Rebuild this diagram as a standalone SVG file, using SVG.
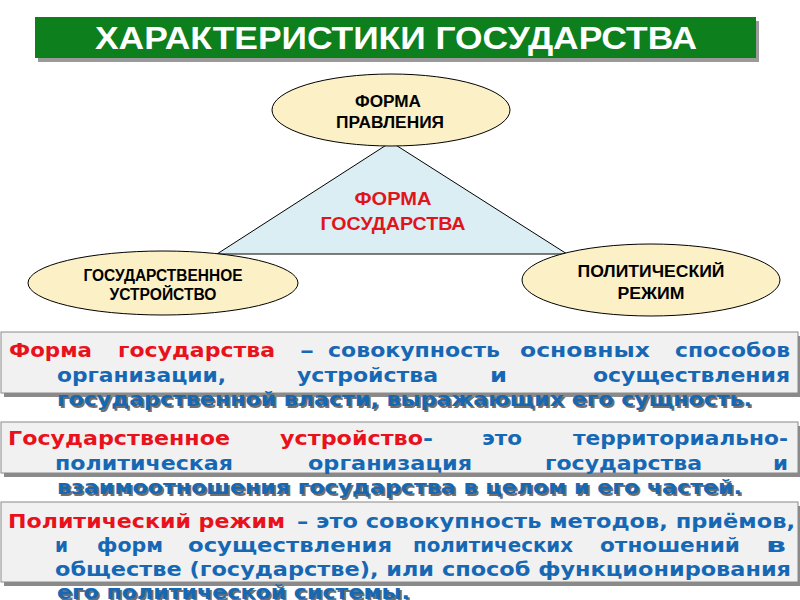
<svg xmlns="http://www.w3.org/2000/svg" width="800" height="600" viewBox="0 0 800 600">
<style>
.ttl{font-family:"Liberation Sans",Arial,sans-serif;font-weight:bold;font-size:31px;fill:#ffffff}
.lbl{font-family:"Liberation Sans",Arial,sans-serif;font-weight:bold;font-size:16px;fill:#000000;text-anchor:middle}
.mid{font-family:"Liberation Sans",Arial,sans-serif;font-weight:bold;font-size:18px;fill:#e0151b;text-anchor:middle}
.ell{fill:#fcf1c6;stroke:#000;stroke-width:1}
.box{fill:#f1f1f1;stroke:#8a8a8a;stroke-width:1}
.boxsh{fill:#8a8a8a}
.t{font-family:"DejaVu Sans",Verdana,sans-serif;font-weight:bold;font-size:20px}
.r{fill:#e8121c}
.b{fill:#1768b4}
.s{fill:#6f6f6f}
</style>

<g id="title">
  <rect x="38" y="21" width="721" height="41" fill="#9a9a9a"/>
  <rect x="35" y="17" width="721" height="41" fill="#0d7f1c"/>
  <text class="ttl" x="95" y="49" textLength="602" lengthAdjust="spacingAndGlyphs">ХАРАКТЕРИСТИКИ ГОСУДАРСТВА</text>
</g>

<g id="triangle-forma-gosudarstva">
  <polygon points="391,142 217,254 567,254" fill="#dbeef4" stroke="#000" stroke-width="1"/>
  <text class="mid" x="393" y="205" textLength="77" lengthAdjust="spacingAndGlyphs">ФОРМА</text>
  <text class="mid" x="393" y="230" textLength="145" lengthAdjust="spacingAndGlyphs">ГОСУДАРСТВА</text>
</g>

<g id="node-forma-pravleniya">
  <ellipse class="ell" cx="391" cy="110" rx="119" ry="36"/>
  <text class="lbl" x="388" y="107" textLength="66" lengthAdjust="spacingAndGlyphs">ФОРМА</text>
  <text class="lbl" x="390" y="128" textLength="108" lengthAdjust="spacingAndGlyphs">ПРАВЛЕНИЯ</text>
</g>

<g id="node-gos-ustroystvo">
  <ellipse class="ell" cx="163" cy="283" rx="135" ry="32"/>
  <text class="lbl" x="163" y="281" textLength="159" lengthAdjust="spacingAndGlyphs">ГОСУДАРСТВЕННОЕ</text>
  <text class="lbl" x="163" y="300" textLength="107" lengthAdjust="spacingAndGlyphs">УСТРОЙСТВО</text>
</g>

<g id="node-polit-rezhim">
  <ellipse class="ell" cx="651" cy="280" rx="129" ry="36"/>
  <text class="lbl" x="651" y="277" textLength="147" lengthAdjust="spacingAndGlyphs">ПОЛИТИЧЕСКИЙ</text>
  <text class="lbl" x="651" y="299" textLength="67" lengthAdjust="spacingAndGlyphs">РЕЖИМ</text>
</g>

<g id="connectors"></g>

<g id="def-forma">
  <rect class="boxsh" x="4" y="336" width="797" height="61"/>
  <rect class="box" x="1" y="332" width="797" height="61"/>
  <text class="t r" x="9" y="357" textLength="83" lengthAdjust="spacingAndGlyphs">Форма</text>
  <text class="t r" x="118" y="357" textLength="157" lengthAdjust="spacingAndGlyphs">государства</text>
  <text class="t b" x="300" y="357" textLength="14" lengthAdjust="spacingAndGlyphs">–</text>
  <text class="t b" x="328" y="357" textLength="172" lengthAdjust="spacingAndGlyphs">совокупность</text>
  <text class="t b" x="520" y="357" textLength="130" lengthAdjust="spacingAndGlyphs">основных</text>
  <text class="t b" x="675" y="357" textLength="115" lengthAdjust="spacingAndGlyphs">способов</text>
  <text class="t b" x="57" y="382" textLength="169" lengthAdjust="spacingAndGlyphs">организации,</text>
  <text class="t b" x="297" y="382" textLength="141" lengthAdjust="spacingAndGlyphs">устройства</text>
  <text class="t b" x="490" y="382" textLength="17" lengthAdjust="spacingAndGlyphs">и</text>
  <text class="t b" x="593" y="382" textLength="197" lengthAdjust="spacingAndGlyphs">осуществления</text>
  <text class="t s" x="59" y="408" textLength="695" lengthAdjust="spacingAndGlyphs">государственной власти, выражающих его сущность.</text>
  <text class="t b" x="57" y="406" textLength="695" lengthAdjust="spacingAndGlyphs">государственной власти, выражающих его сущность.</text>
</g>

<g id="def-ustroystvo">
  <rect class="boxsh" x="4" y="426" width="797" height="51"/>
  <rect class="box" x="1" y="422" width="797" height="51"/>
  <text class="t r" x="8" y="445" textLength="222" lengthAdjust="spacingAndGlyphs">Государственное</text>
  <text class="t r" x="280" y="445" textLength="143" lengthAdjust="spacingAndGlyphs">устройство</text>
  <text class="t b" x="423" y="445" textLength="10" lengthAdjust="spacingAndGlyphs">-</text>
  <text class="t b" x="482" y="445" textLength="40" lengthAdjust="spacingAndGlyphs">это</text>
  <text class="t b" x="573" y="445" textLength="215" lengthAdjust="spacingAndGlyphs">территориально-</text>
  <text class="t b" x="55" y="470" textLength="178" lengthAdjust="spacingAndGlyphs">политическая</text>
  <text class="t b" x="308" y="470" textLength="164" lengthAdjust="spacingAndGlyphs">организация</text>
  <text class="t b" x="545" y="470" textLength="157" lengthAdjust="spacingAndGlyphs">государства</text>
  <text class="t b" x="773" y="470" textLength="15" lengthAdjust="spacingAndGlyphs">и</text>
  <text class="t s" x="59" y="496" textLength="685" lengthAdjust="spacingAndGlyphs">взаимоотношения государства в целом и его частей.</text>
  <text class="t b" x="57" y="494" textLength="685" lengthAdjust="spacingAndGlyphs">взаимоотношения государства в целом и его частей.</text>
</g>

<g id="def-rezhim">
  <rect class="boxsh" x="4" y="506" width="797" height="80"/>
  <rect class="box" x="1" y="502" width="797" height="80"/>
  <text class="t r" x="8" y="528" textLength="277" lengthAdjust="spacingAndGlyphs">Политический режим</text>
  <text class="t b" x="297" y="528" textLength="498" lengthAdjust="spacingAndGlyphs">– это совокупность методов, приёмов,</text>
  <text class="t b" x="55" y="552" textLength="13" lengthAdjust="spacingAndGlyphs">и</text>
  <text class="t b" x="97" y="552" textLength="66" lengthAdjust="spacingAndGlyphs">форм</text>
  <text class="t b" x="188" y="552" textLength="204" lengthAdjust="spacingAndGlyphs">осуществления</text>
  <text class="t b" x="413" y="552" textLength="160" lengthAdjust="spacingAndGlyphs">политических</text>
  <text class="t b" x="600" y="552" textLength="140" lengthAdjust="spacingAndGlyphs">отношений</text>
  <text class="t b" x="766" y="552" textLength="20" lengthAdjust="spacingAndGlyphs">в</text>
  <text class="t b" x="55" y="576" textLength="736" lengthAdjust="spacingAndGlyphs">обществе (государстве), или способ функционирования</text>
  <text class="t s" x="59" y="601" textLength="353" lengthAdjust="spacingAndGlyphs">его политической системы.</text>
  <text class="t b" x="57" y="599" textLength="353" lengthAdjust="spacingAndGlyphs">его политической системы.</text>
</g>
</svg>
